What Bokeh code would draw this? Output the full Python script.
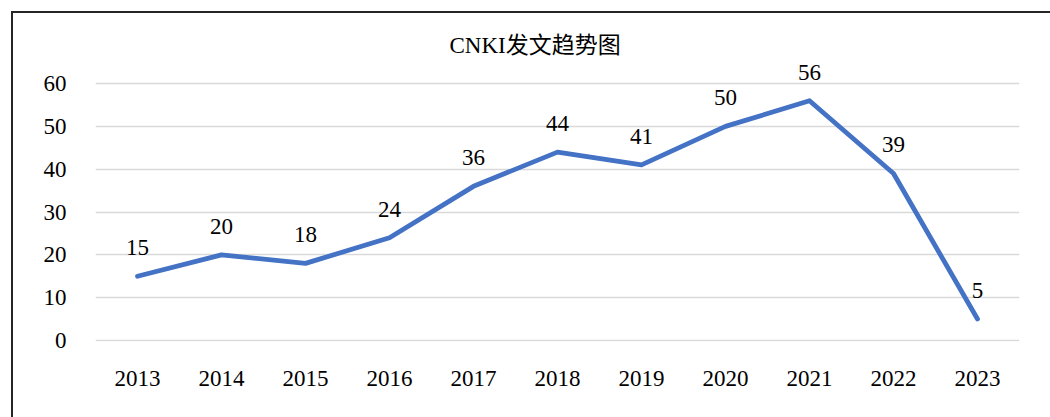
from bokeh.plotting import figure
from bokeh.models import ColumnDataSource, FixedTicker, Range1d, Title, InlineStyleSheet
from bokeh.core.properties import value
from bokeh.embed import file_html
from bokeh.resources import INLINE

years = ["2013", "2014", "2015", "2016", "2017", "2018", "2019", "2020", "2021", "2022", "2023"]
counts = [15, 20, 18, 24, 36, 44, 41, 50, 56, 39, 5]
y_ticks = [0, 10, 20, 30, 40, 50, 60]
title_text = "CNKI发文趋势图"

FONT = "Liberation Serif, 'Times New Roman', 'Noto Sans CJK SC', serif"

src = ColumnDataSource(dict(x=years, y=counts, label=[str(v) for v in counts]))

p = figure(width=1050, height=417, x_range=years, y_range=Range1d(-0.25, 65.4),
           output_backend="svg", toolbar_location=None,
           min_border_left=95, min_border_right=31, min_border_top=60, min_border_bottom=76)
p.x_range.range_padding = 0
p.outline_line_color = None
p.background_fill_color = "white"
p.border_fill_color = "white"

p.title = Title(text=title_text, align="left", offset=354, text_font=FONT,
                text_font_size="23px", text_font_style="normal", text_color="#000000",
                standoff=5)

p.line("x", "y", source=src, line_color="#4472C4", line_width=4.8,
       line_cap="round", line_join="round")
p.text("x", "y", text="label", source=src, text_font=value(FONT), text_font_size="23px",
       text_align="center", text_baseline="bottom", y_offset=-21, text_color="#000000")

p.yaxis.ticker = FixedTicker(ticks=y_ticks)
p.ygrid.ticker = FixedTicker(ticks=y_ticks)
p.xgrid.grid_line_color = None
p.ygrid.grid_line_color = "#D9D9D9"
p.ygrid.grid_line_width = 1.5

for ax in (p.xaxis[0], p.yaxis[0]):
    ax.axis_line_color = None
    ax.major_tick_line_color = None
    ax.minor_tick_line_color = None
    ax.major_label_text_font = FONT
    ax.major_label_text_font_size = "23px"
    ax.major_label_text_color = "#000000"
p.yaxis.major_label_standoff = 23
p.xaxis.major_label_standoff = 23

p.stylesheets = [InlineStyleSheet(css="""
:host { position: relative; }
:host::after {
  content: ""; position: absolute; left: 11px; top: 11px; right: -20px; bottom: -20px;
  border-left: 2px solid #262626; border-top: 2px solid #262626;
  pointer-events: none; z-index: 10;
}
""")]

open("out.html", "w").write(file_html(p, INLINE))
